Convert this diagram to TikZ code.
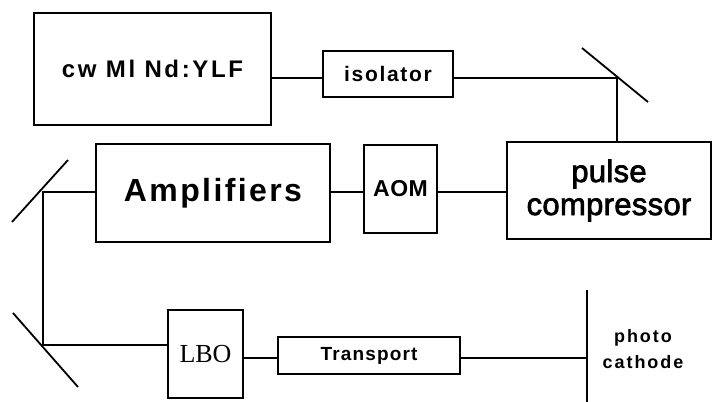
\documentclass[tikz,border=0pt]{standalone}
\usepackage{fontspec}
\setmainfont{Liberation Sans}
\newfontfamily\lbofont{Liberation Serif}
\usepackage{tikz}
\usetikzlibrary{calc}

\tikzset{
  box/.style={draw, line width=1.8pt, inner sep=0pt, anchor=center},
  beam/.style={line width=1.8pt},
  mirror/.style={line width=1.8pt},
}
\newcommand{\lbl}[3]{\fontsize{#1}{#2}\selectfont\bfseries\addfontfeatures{LetterSpace=#3}}

\begin{document}
\begin{tikzpicture}[x=1pt, y=-1pt]
\useasboundingbox (0,0) rectangle (713,402);
% boxes
\node[box, minimum width=237, minimum height=112, font=\lbl{24}{24}{11}] (laser) at (152.5,69)
  {cw Ml Nd:YLF};
\node[box, minimum width=130, minimum height=46, font=\lbl{21}{21}{8}] (iso) at (388,74)
  {isolator};
\node[box, minimum width=204, minimum height=97, align=center,
  font=\fontsize{31}{33}\selectfont\addfontfeatures{FakeBold=2.4, LetterSpace=1}] (pulse) at (609,190.5)
  {pulse\\compressor};
\node[box, minimum width=73, minimum height=88, font=\lbl{23}{23}{2}] (aom) at (400.5,189)
  {AOM};
\node[box, minimum width=234, minimum height=98, font=\lbl{32}{32}{7.5}] (amp) at (213,193)
  {Amplifiers};
\node[box, minimum width=75, minimum height=88, font=\fontsize{26}{26}\selectfont\lbofont] (lbo) at (205.5,354)
  {LBO};
\node[box, minimum width=182, minimum height=37, font=\lbl{19}{19}{6}] (trans) at (369,355.5)
  {Transport};
\node[align=center, inner sep=0pt, font=\lbl{18}{26}{11}] (cath) at (643,349)
  {photo\\cathode};
% mirrors
\coordinate (m1) at (617,78);
\coordinate (m2) at (43,192);
\coordinate (m3) at (43,345);
\coordinate (pc) at (587,358);
\draw[mirror] (582,48) -- (648,102);
\draw[mirror] (68,160) -- (12,222);
\draw[mirror] (13,313) -- (78,387);
\draw[mirror] (pc |- 0,290) -- (pc |- 0,402);
% beam path
\draw[beam] (laser.east |- m1) -- (iso.west |- m1);
\draw[beam] (iso.east |- m1) -- (m1) -- (m1 |- pulse.north);
\draw[beam] (pulse.west |- 0,192) -- (aom.east |- 0,192);
\draw[beam] (aom.west |- 0,192) -- (amp.east |- 0,192);
\draw[beam] (amp.west |- m2) -- (m2) -- (m3) -- (lbo.west |- m3);
\draw[beam] (lbo.east |- pc) -- (trans.west |- pc);
\draw[beam] (trans.east |- pc) -- (pc);
\end{tikzpicture}
\end{document}
